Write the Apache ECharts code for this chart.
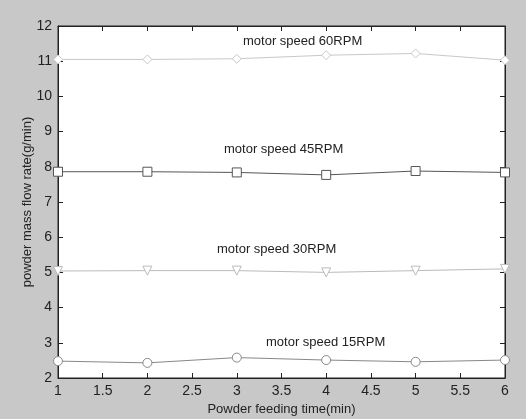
<!DOCTYPE html>
<html>
<head>
<meta charset="utf-8">
<script src="https://cdn.jsdelivr.net/npm/echarts@6/dist/echarts.min.js"></script>
<style>
  html, body { margin: 0; padding: 0; background: #c8c8c8; }
  #chart { width: 526px; height: 419px; }
</style>
</head>
<body>
<div id="chart"></div>
<script>
// feeding time (min)
const times = [1, 2, 3, 4, 5, 6];
// powder mass flow rate (g/min) per motor speed
const rpm60 = [11.05, 11.05, 11.07, 11.17, 11.22, 11.03];
const rpm45 = [7.86, 7.86, 7.84, 7.77, 7.88, 7.84];
const rpm30 = [5.04, 5.05, 5.05, 5.0, 5.05, 5.1];
const rpm15 = [2.48, 2.43, 2.58, 2.51, 2.46, 2.51];
const seriesNames = ['motor speed 60RPM', 'motor speed 45RPM', 'motor speed 30RPM', 'motor speed 15RPM'];

const font = 'Liberation Sans, Arial, sans-serif';

function pairs(vals) {
    return times.map((t, i) => [t, vals[i]]);
}

function makeSeries(name, vals, color, symbol, rotate) {
    return {
        name: name,
        type: 'line',
        data: pairs(vals),
        symbol: symbol,
        symbolSize: 9,
        symbolRotate: rotate || 0,
        showAllSymbol: true,
        lineStyle: { color: color, width: 1 },
        itemStyle: { color: '#fff', borderColor: color, borderWidth: 1 },
        emphasis: { disabled: true },
        animation: false
    };
}

function note(text, left, top) {
    return {
        type: 'text',
        left: left,
        top: top,
        style: { text: text, font: '13px ' + font, fill: '#222' }
    };
}

const chart = echarts.init(document.getElementById('chart'));

const tickCommon = { inside: true, length: 5, lineStyle: { color: '#222' } };

chart.setOption({
    backgroundColor: '#c8c8c8',
    animation: false,
    grid: {
        left: 58, right: 21, top: 26, bottom: 41,
        containLabel: false, outerBoundsMode: 'none',
        show: true, backgroundColor: '#fff', borderColor: '#222', borderWidth: 1
    },
    xAxis: [{
        type: 'value', min: 1, max: 6, interval: 0.5,
        name: 'Powder feeding time(min)', nameLocation: 'middle', nameGap: 25,
        nameTextStyle: { fontFamily: font, fontSize: 13, color: '#222' },
        axisLine: { lineStyle: { color: '#222' } },
        axisTick: tickCommon,
        splitLine: { show: false },
        axisLabel: { fontFamily: font, fontSize: 14, color: '#222', margin: 6 }
    }, {
        type: 'value', min: 1, max: 6, interval: 0.5, position: 'top',
        axisLine: { lineStyle: { color: '#222' } },
        axisTick: tickCommon, axisLabel: { show: false }, splitLine: { show: false }
    }],
    yAxis: [{
        type: 'value', min: 2, max: 12, interval: 1,
        name: 'powder mass flow rate(g/min)', nameLocation: 'middle', nameGap: 24,
        nameMoveOverlap: false,
        nameTextStyle: { fontFamily: font, fontSize: 13, color: '#222' },
        axisLine: { show: true, lineStyle: { color: '#222' } },
        axisTick: { show: true, inside: true, length: 5, lineStyle: { color: '#222' } },
        splitLine: { show: false },
        axisLabel: { fontFamily: font, fontSize: 14, color: '#222', margin: 6 }
    }, {
        type: 'value', min: 2, max: 12, interval: 1, position: 'right',
        axisLine: { show: true, lineStyle: { color: '#222' } },
        axisTick: { show: true, inside: true, length: 5, lineStyle: { color: '#222' } },
        axisLabel: { show: false }, splitLine: { show: false }
    }],
    series: [
        makeSeries(seriesNames[0], rpm60, '#c8c8c8', 'diamond'),
        makeSeries(seriesNames[1], rpm45, '#555', 'rect'),
        makeSeries(seriesNames[2], rpm30, '#bbb', 'triangle', 180),
        makeSeries(seriesNames[3], rpm15, '#888', 'circle')
    ],
    graphic: [
        note(seriesNames[0], 243, 35),
        note(seriesNames[1], 224, 143),
        note(seriesNames[2], 217, 243),
        note(seriesNames[3], 266, 336)
    ]
});
</script>
</body>
</html>
